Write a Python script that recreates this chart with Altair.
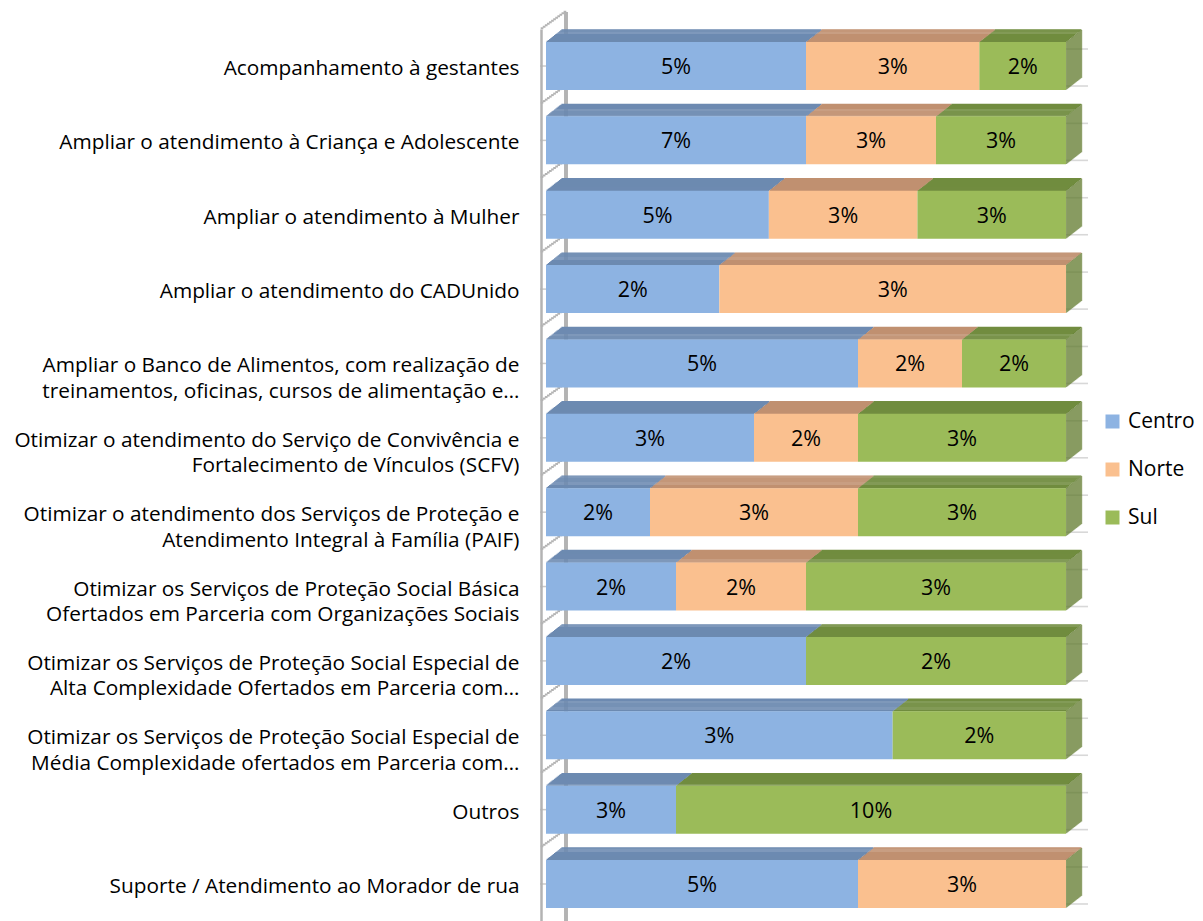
import altair as alt
import pandas as pd

cats = [
    "Acompanhamento à gestantes",
    "Ampliar o atendimento à Criança e Adolescente",
    "Ampliar o atendimento à Mulher",
    "Ampliar o atendimento do CADUnido",
    "Ampliar o Banco de Alimentos, com realização de\ntreinamentos, oficinas, cursos de alimentação e…",
    "Otimizar o atendimento do Serviço de Convivência e\nFortalecimento de Vínculos (SCFV)",
    "Otimizar o atendimento dos Serviços de Proteção e\nAtendimento Integral à Família (PAIF)",
    "Otimizar os Serviços de Proteção Social Básica\nOfertados em Parceria com Organizações Sociais",
    "Otimizar os Serviços de Proteção Social Especial de\nAlta Complexidade Ofertados em Parceria com…",
    "Otimizar os Serviços de Proteção Social Especial de\nMédia Complexidade ofertados em Parceria com…",
    "Outros",
    "Suporte / Atendimento ao Morador de rua",
]
series = ["Centro", "Norte", "Sul"]
centro = [4.5, 6.6, 4.5, 1.5, 4.5, 3.0, 1.5, 1.5, 1.5, 3.0, 3.3, 4.5]
norte = [3.0, 3.3, 3.0, 3.0, 1.5, 1.5, 3.0, 1.5, 0.0, 0.0, 0.0, 3.0]
sul = [1.5, 3.3, 3.0, 0.0, 1.5, 3.0, 3.0, 3.0, 1.5, 1.5, 9.9, 0.0]
rot_centro = ["5%", "7%", "5%", "2%", "5%", "3%", "2%", "2%", "2%", "3%", "3%", "5%"]
rot_norte = ["3%", "3%", "3%", "3%", "2%", "2%", "3%", "2%", "", "", "", "3%"]
rot_sul = ["2%", "3%", "3%", "", "2%", "3%", "3%", "3%", "2%", "2%", "10%", ""]

front_colors = ["#8DB3E2", "#FAC08F", "#9BBB59"]
top_colors = ["#6D8AB1", "#C09070", "#718C3F"]
side_color = "#667F36"
wall_color = "#B3B3B3"
FONT = "Open Sans"

rows = []
for i, c in enumerate(cats):
    for j, (s, vals, labs) in enumerate(zip(series, [centro, norte, sul], [rot_centro, rot_norte, rot_sul])):
        rows.append({"cat": c, "serie": s, "ordem": j, "valor": vals[i], "rotulo": labs[i], "cor_topo": top_colors[j]})
df = pd.DataFrame(rows)

DX, DY, BAR = 16.0, 12.5, 48.0
NT = 13
NS = 16

yscale = alt.Scale(paddingInner=0.3545, paddingOuter=0.175)
yaxis = alt.Axis(title=None, ticks=False, offset=5, labelPadding=22, domainColor=wall_color, domainWidth=2.5,
                 labelFont=FONT, labelFontSize=20.8, labelColor="black", labelLineHeight=25.5, labelOffset=3,
                 labelExpr="split(datum.label, '\\n')", labelLimit=0)
yenc = alt.Y("cat:N", sort=cats, scale=yscale, axis=yaxis)
xscale = alt.Scale(domain=[0, 1], nice=False)
xenc = alt.X("x0:Q", scale=xscale, axis=None)

base = alt.Chart(df).transform_stack(
    stack="valor", groupby=["cat"], as_=["x0", "x1"], offset="normalize",
    sort=[alt.SortField("ordem", order="ascending")]
).transform_filter("datum.valor > 0")

one = alt.Chart(df).transform_filter("datum.ordem == 0").transform_calculate(ini="0", fim="1")
x_ini = alt.X("ini:Q", scale=xscale, axis=None)
x_fim = alt.X("fim:Q", scale=xscale, axis=None)

layers = []
# back wall gridline stubs (right side)
for yo in (-17, 20):
    layers.append(one.mark_tick(orient="horizontal", size=22, thickness=1.6, color="#C8C8C8",
                                xOffset=11, yOffset=yo).encode(x=x_fim, y=yenc))
# back wall vertical line
layers.append(one.mark_rule(color=wall_color, strokeWidth=2.5, xOffset=20, yOffset=-17, y2Offset=-17)
              .encode(x=x_ini))
# slanted wall lines (staircase of short segments)
NW = 12
for k in range(NW):
    f0 = k / NW
    f1 = (k + 1) / NW
    layers.append(one.mark_rule(color=wall_color, strokeWidth=2,
                                xOffset=-5 + f0 * 25 - 0.3, x2Offset=-5 + f1 * 25 + 0.3,
                                yOffset=-(BAR / 2 + 13 + (f0 + f1) / 2 * 18))
                  .encode(x=x_ini, x2="ini:Q", y=yenc))
# small stubs between wall and bars at band centre
layers.append(one.mark_tick(orient="horizontal", size=6, thickness=1.5, color=wall_color, xOffset=-3)
              .encode(x=x_ini, y=yenc))
# top faces
for k in range(NT):
    f = (k + 0.5) / NT
    layers.append(base.mark_rule(strokeWidth=DY / NT + 0.4, xOffset=f * DX, x2Offset=f * DX,
                                 yOffset=-(BAR / 2 + f * DY))
                  .encode(x=xenc, x2="x1:Q", y=yenc, color=alt.Color("cor_topo:N", scale=None)))
# side faces
for j in range(NS):
    f = (j + 0.5) / NS
    layers.append(one.mark_tick(orient="vertical", size=BAR, thickness=DX / NS + 0.4, color=side_color,
                                xOffset=f * DX, yOffset=-f * DY)
                  .encode(x=x_fim, y=yenc))
# front faces
layers.append(base.mark_bar().encode(
    x=xenc, x2="x1:Q", y=yenc,
    color=alt.Color("serie:N", scale=alt.Scale(domain=series, range=front_colors),
                    legend=alt.Legend(title=None, orient="none", legendX=556, legendY=382,
                                      symbolType="square", symbolSize=196, symbolStrokeWidth=0,
                                      labelFont=FONT, labelFontSize=21, labelColor="black",
                                      rowPadding=26, labelOffset=5))))
# labels
layers.append(base.transform_calculate(xm="(datum.x0 + datum.x1) / 2")
              .mark_text(font=FONT, fontSize=21.5, color="black", dy=2)
              .encode(x=alt.X("xm:Q", scale=xscale, axis=None), y=yenc, text="rotulo:N"))

chart = alt.layer(*layers).properties(
    width=520, height=892,
    padding={"left": 538, "top": 21, "right": 129, "bottom": 0},
    autosize=alt.AutoSizeParams(type="none"),
).configure_view(stroke=None)

chart.save("out.html", embed_options={"renderer": "svg", "actions": False})
